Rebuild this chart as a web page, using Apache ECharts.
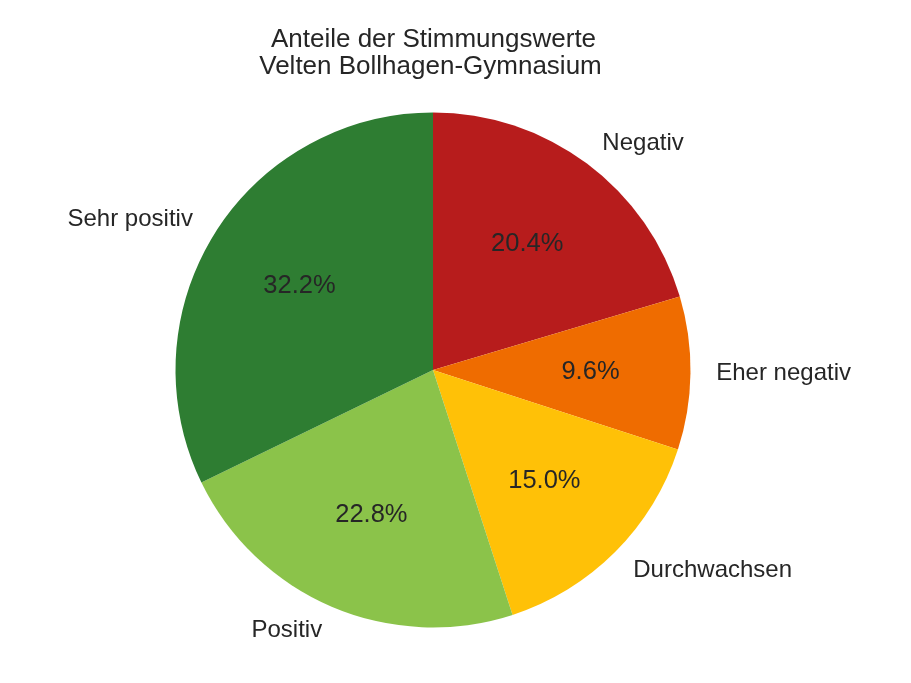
<!DOCTYPE html>
<html>
<head>
<meta charset="utf-8">
<script src="https://cdn.jsdelivr.net/npm/echarts@6/dist/echarts.min.js"></script>
<style>
  html, body { margin: 0; padding: 0; background: #fff; }
  #chart { width: 911px; height: 683px; }
</style>
</head>
<body>
<div id="chart"></div>
<script>
// Anteile der Stimmungswerte (in %)
var categories = ['Negativ', 'Eher negativ', 'Durchwachsen', 'Positiv', 'Sehr positiv'];
var values = [20.4, 9.6, 15.0, 22.8, 32.2];
var colors = ['#b71c1c', '#ef6c00', '#ffc107', '#8bc34a', '#2e7d32'];
var titleLines = ['Anteile der Stimmungswerte', 'Velten Bollhagen-Gymnasium'];

var chart = echarts.init(document.getElementById('chart'));

var R = 257.5;
var center = [433, 370];
var font = 'Liberation Sans, Arial, sans-serif';

var pieData = categories.map(function (name, i) {
    return { name: name, value: values[i], itemStyle: { color: colors[i] } };
});

var option = {
    animation: false,
    backgroundColor: '#fff',
    graphic: [
        { type: 'text', x: 433.5, y: 39.5, style: { text: titleLines[0], font: '26px ' + font, fill: '#262626', textAlign: 'center', textVerticalAlign: 'middle' } },
        { type: 'text', x: 430.5, y: 67, style: { text: titleLines[1], font: '26px ' + font, fill: '#262626', textAlign: 'center', textVerticalAlign: 'middle' } }
    ],
    series: [
        {
            type: 'pie',
            center: center,
            radius: [0, R],
            startAngle: 90,
            clockwise: true,
            avoidLabelOverlap: false,
            silent: true,
            itemStyle: { borderWidth: 0 },
            label: {
                show: true,
                position: 'outside',
                distanceToLabelLine: 0,
                formatter: '{b}',
                fontSize: 24,
                fontFamily: font,
                color: '#262626'
            },
            labelLine: { show: false, length: 25.75, length2: 0 },
            data: pieData
        },
        {
            // percentage labels at 0.6 R
            type: 'pie',
            center: center,
            radius: [0.2 * R, R],
            startAngle: 90,
            clockwise: true,
            silent: true,
            itemStyle: { color: 'transparent', borderWidth: 0 },
            label: {
                show: true,
                position: 'inside',
                formatter: function (p) { return p.value.toFixed(1) + '%'; },
                fontSize: 25.5,
                fontFamily: font,
                color: '#262626'
            },
            labelLine: { show: false },
            data: categories.map(function (name, i) { return { name: name, value: values[i] }; })
        }
    ]
};
chart.setOption(option);
</script>
</body>
</html>
